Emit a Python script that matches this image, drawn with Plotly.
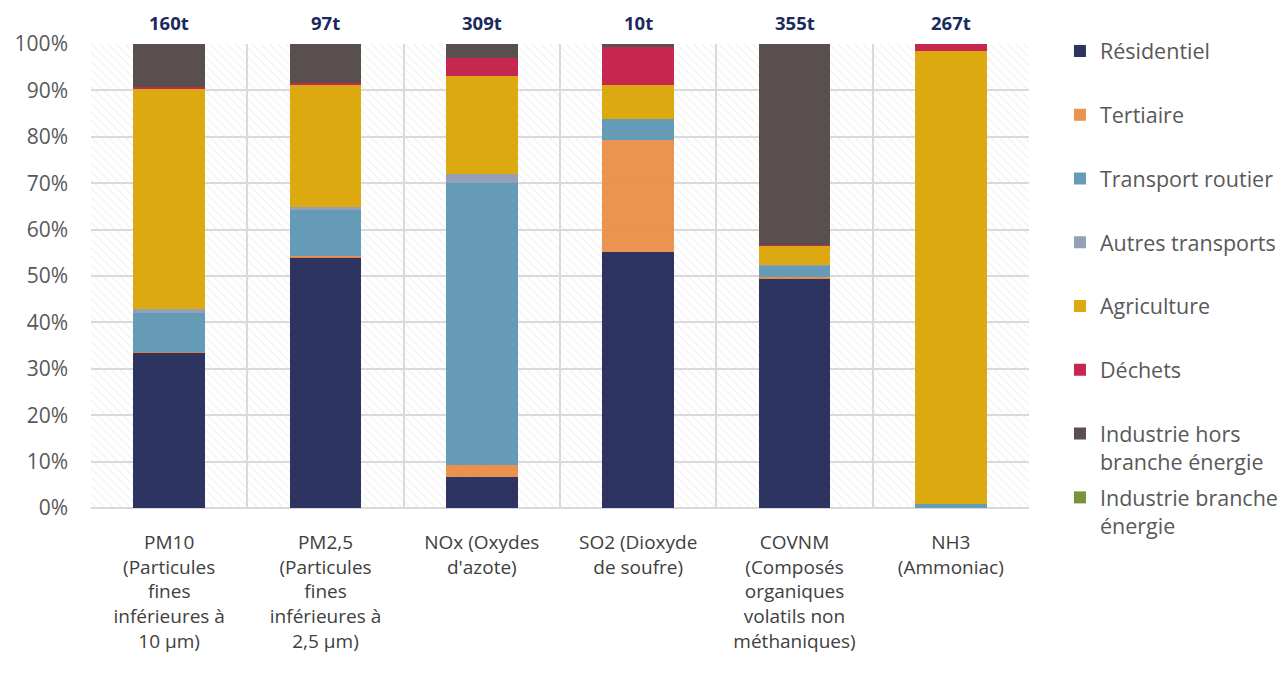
import plotly.graph_objects as go

# Polluants (libellés d'axe, retours à la ligne compris)
categories = [
    "PM10<br>(Particules<br>fines<br>inférieures à<br>10 µm)",
    "PM2,5<br>(Particules<br>fines<br>inférieures à<br>2,5 µm)",
    "NOx (Oxydes<br>d'azote)",
    "SO2 (Dioxyde<br>de soufre)",
    "COVNM<br>(Composés<br>organiques<br>volatils non<br>méthaniques)",
    "NH3<br>(Ammoniac)",
]

# Émissions totales par polluant
totals = ["160t", "97t", "309t", "10t", "355t", "267t"]

# Répartition par secteur (%)
residentiel = [33.6, 54.0, 6.7, 55.2, 49.5, 0.0]
tertiaire = [0.1, 0.3, 2.5, 24.1, 0.2, 0.0]
transport_routier = [8.4, 9.9, 60.9, 4.5, 2.5, 0.9]
autres_transports = [0.7, 0.6, 1.9, 0.0, 0.1, 0.0]
agriculture = [47.6, 26.5, 21.0, 7.4, 4.2, 97.6]
dechets = [0.3, 0.4, 3.9, 8.1, 0.2, 1.5]
industrie_hors_energie = [9.3, 8.3, 3.1, 0.7, 43.3, 0.0]
industrie_energie = [0.0, 0.0, 0.0, 0.0, 0.0, 0.0]

# (nom, valeurs, couleur, opacité, légende)
series = [
    ("Résidentiel", residentiel, "#2e3461", 1.0, "legend"),
    ("Tertiaire", tertiaire, "#e98b43", 0.93, "legend"),
    ("Transport routier", transport_routier, "#669bb8", 1.0, "legend"),
    ("Autres transports", autres_transports, "#94a0b6", 1.0, "legend"),
    ("Agriculture", agriculture, "#dda911", 1.0, "legend"),
    ("Déchets", dechets, "#c5274e", 1.0, "legend"),
    ("Industrie hors<br>branche énergie", industrie_hors_energie, "#5a4f4f", 1.0, "legend"),
    ("Industrie branche<br>énergie", industrie_energie, "#77943a", 1.0, "legend2"),
]

fig = go.Figure()

# Fond hachuré de la zone de tracé (axe x numérique, sous les barres)
fig.add_trace(go.Bar(
    x=[2.5], y=[100], width=[6], xaxis="x", yaxis="y",
    marker=dict(
        color="rgba(0,0,0,0)",
        line=dict(width=0),
        pattern=dict(shape="\\", size=6, solidity=0.18,
                     fgcolor="#dedede", bgcolor="rgba(0,0,0,0)",
                     fillmode="overlay"),
    ),
    showlegend=False, hoverinfo="skip",
))

# Barres empilées par secteur (axe x catégoriel superposé)
for i, (name, vals, color, op, leg) in enumerate(series):
    fig.add_trace(go.Bar(
        x=categories, y=vals, name=name, legendgroup=f"g{i}", legend=leg,
        xaxis="x2", yaxis="y",
        marker=dict(color=color, line=dict(width=0)), opacity=op,
    ))

# Totaux au-dessus des barres
for cat, tot in zip(categories, totals):
    fig.add_annotation(
        x=cat, y=1.0, xref="x2", yref="paper", yanchor="bottom",
        yshift=7, text=f"<b>{tot}</b>", showarrow=False,
        font=dict(family="Open Sans", size=18.5, color="#1b2a5e"),
    )

legend_font = dict(family="Open Sans", size=21.5, color="#595959")

fig.update_layout(
    width=1288, height=679,
    margin=dict(l=91, r=259, t=44, b=171, autoexpand=False),
    barmode="stack", bargap=0.54,
    paper_bgcolor="white", plot_bgcolor="white",
    font=dict(family="Open Sans", color="#595959"),
    xaxis=dict(
        range=[-0.5, 5.5], showgrid=True,
        gridcolor="#d9d9d9", gridwidth=2,
        tickvals=[-0.5, 0.5, 1.5, 2.5, 3.5, 4.5, 5.5],
        showticklabels=False, zeroline=False, showline=False, ticks="",
    ),
    xaxis2=dict(
        type="category", overlaying="x", side="bottom",
        showgrid=False, zeroline=False, showline=False,
        ticks="", tickangle=0, ticklabelstandoff=21,
        tickfont=dict(family="Open Sans", size=19, color="#404040"),
    ),
    yaxis=dict(
        range=[0, 100], dtick=10, ticksuffix="%",
        showgrid=True, gridcolor="#d9d9d9", gridwidth=2,
        zeroline=True, zerolinecolor="#d9d9d9", zerolinewidth=2,
        showline=False, ticks="", ticklabelstandoff=22,
        tickfont=dict(family="Open Sans", size=21, color="#595959"),
    ),
    legend=dict(
        x=1.033, y=1.029, xanchor="left", yanchor="top",
        traceorder="grouped", tracegroupgap=32.8, valign="top",
        font=legend_font, itemwidth=30, maxheight=640,
    ),
    legend2=dict(
        x=1.033, y=0.067, xanchor="left", yanchor="top",
        valign="top", font=legend_font, itemwidth=30,
    ),
    showlegend=True,
)

fig.write_html("out.html")
